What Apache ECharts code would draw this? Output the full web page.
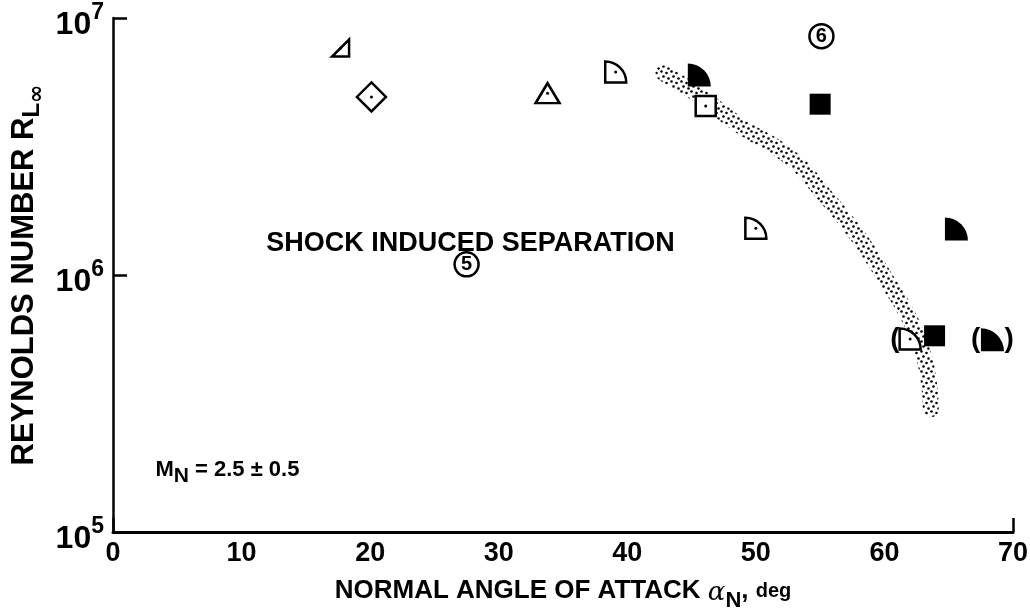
<!DOCTYPE html>
<html>
<head>
<meta charset="utf-8">
<script src="https://cdn.jsdelivr.net/npm/echarts@6/dist/echarts.min.js"></script>
<style>
html,body{margin:0;padding:0;background:#fff;}
#chart{width:1030px;height:613px;}
</style>
</head>
<body>
<div id="chart"></div>
<script>
// ---- data ----
const xTicks = [0, 10, 20, 30, 40, 50, 60, 70];
const yTicks = [1e5, 1e6, 1e7];
const openQuarter = [[39.1, 6.16e6], [50.0, 1.52e6], [62.0, 5.64e5]];
const filledQuarter = [[45.6, 6.0e6], [65.6, 1.51e6], [68.4, 5.6e5]];
const openSquare = [[46.1, 4.55e6]];
const filledSquare = [[55.0, 4.62e6], [63.9, 5.8e5]];
const openTriangle = [[33.8, 5.1e6]];
const slashTriangle = [[17.7, 7.64e6]];
const openDiamond = [[20.1, 4.93e6]];
const bracketLeftOnly = [[62.0, 5.64e5]];
const bracketBoth = [[68.4, 5.6e5]];
const regionMarks = [{name: '5', value: [27.5, 1.1e6]}, {name: '6', value: [55.1, 8.5e6]}];
const boundary = [[42.8, 6.1e6], [45.6, 5.0e6], [48.8, 3.8e6], [52.6, 2.88e6], [55.5, 2.0e6],
                  [58.0, 1.4e6], [60.2, 9.5e5], [61.8, 7.0e5], [62.8, 5.3e5], [63.4, 4.0e5], [63.6, 3.0e5]];
const regionText = [{name: 'SHOCK INDUCED SEPARATION', value: [27.8, 1.32e6]}];
const machText = [{name: 'M_N', value: [8.9, 1.75e5]}];

// ---- styles ----
const BOLD = 'bold';
const SANS = '"Liberation Sans", Arial, sans-serif';
const NARROW = '"Liberation Sans Narrow", "Liberation Sans", Arial, sans-serif';

const pat = document.createElement('canvas');
pat.width = 10; pat.height = 10;
const pctx = pat.getContext('2d');
pctx.fillStyle = '#000';
[[1.5, 1.5], [6.5, 3], [3.5, 6.5], [8.5, 8.5]].forEach(([x, y]) => {
  pctx.beginPath(); pctx.arc(x, y, 1.3, 0, Math.PI * 2); pctx.fill();
});

const QUARTER = 'path://M0,0 A20,20 0 0 1 20,20 L0,20 Z';
const RTRI = 'path://M20,0 L20,20 L0,20 Z';

function openStyle() {
  return {color: '#fff', borderColor: '#000', borderWidth: 2.5, opacity: 1};
}
const solid = {color: '#000', opacity: 1};
const hidden = {color: 'rgba(0,0,0,0)', opacity: 1};

const chart = echarts.init(document.getElementById('chart'), null, {renderer: 'canvas'});
chart.setOption({
  animation: false,
  backgroundColor: '#fff',
  grid: {left: 113, right: 17, top: 18, bottom: 81, containLabel: false, outerBoundsMode: 'none'},
  xAxis: [{
    type: 'value', min: 0, max: 70, interval: 10,
    axisLine: {show: true, lineStyle: {color: '#000', width: 3}},
    axisTick: {show: false},
    splitLine: {show: false},
    axisLabel: {color: '#000', fontSize: 27, fontWeight: BOLD, fontFamily: NARROW, margin: 8,
      formatter: v => xTicks.includes(v) ? String(v) : ''},
    name: '{t|NORMAL ANGLE OF ATTACK }{g|α}{sub|N}{t|, }{d|deg}',
    nameLocation: 'middle', nameGap: 46, nameMoveOverlap: false,
    nameTextStyle: {
      rich: {
        t: {fontSize: 26, fontWeight: BOLD, fontFamily: NARROW, color: '#000', lineHeight: 32, verticalAlign: 'top'},
        g: {fontSize: 26, fontFamily: 'DejaVu Serif', fontStyle: 'italic', color: '#000', lineHeight: 32, verticalAlign: 'top', padding: [2, 0, 0, 0]},
        sub: {fontSize: 22, fontWeight: BOLD, fontFamily: NARROW, color: '#000', lineHeight: 32, verticalAlign: 'top', padding: [12, 0, 0, 0]},
        d: {fontSize: 20, fontWeight: BOLD, fontFamily: NARROW, color: '#000', lineHeight: 32, verticalAlign: 'top', padding: [3, 0, 0, 0]}
      }
    }
  }, {
    type: 'value', min: 0, max: 70, interval: 70, position: 'bottom',
    axisLine: {show: false},
    axisTick: {show: true, inside: true, length: 14, lineStyle: {color: '#000', width: 2.5}},
    axisLabel: {show: false}, splitLine: {show: false}
  }],
  yAxis: {
    type: 'log', logBase: 10, min: 1e5, max: 1e7,
    axisLine: {show: true, lineStyle: {color: '#000', width: 2.5}},
    axisTick: {show: true, inside: true, length: 14, lineStyle: {color: '#000', width: 2.5}},
    minorTick: {show: false},
    splitLine: {show: false},
    axisLabel: {
      margin: 9,
      formatter: v => {
        const e = Math.round(Math.log10(v));
        return '{b|10}{s|' + e + '}';
      },
      rich: {
        b: {fontSize: 32, fontWeight: BOLD, fontFamily: SANS, color: '#000', lineHeight: 34, padding: [14, 0, 0, 0]},
        s: {fontSize: 23, fontWeight: BOLD, fontFamily: SANS, color: '#000', lineHeight: 34, verticalAlign: 'top'}
      }
    },
    name: '{t|REYNOLDS NUMBER R}{sub|L}{inf|∞}',
    nameLocation: 'middle', nameRotate: 90, nameGap: 72, nameMoveOverlap: false,
    nameTextStyle: {
      rich: {
        t: {fontSize: 31, fontWeight: BOLD, fontFamily: SANS, color: '#000', lineHeight: 34},
        sub: {fontSize: 24, fontWeight: BOLD, fontFamily: SANS, color: '#000', lineHeight: 34, padding: [16, 0, 0, 0]},
        inf: {fontSize: 22, fontWeight: BOLD, fontFamily: 'DejaVu Sans', color: '#000', lineHeight: 34, padding: [26, 0, 0, 0]}
      }
    }
  },
  series: [
    {type: 'line', data: boundary, smooth: true, showSymbol: false, z: 1,
      lineStyle: {width: 16, color: {image: pat, repeat: 'repeat'}, cap: 'round', opacity: 1}},
    {type: 'scatter', data: openQuarter, symbol: QUARTER, symbolSize: 21, itemStyle: openStyle(), z: 3},
    {type: 'scatter', data: filledQuarter, symbol: QUARTER, symbolSize: 23, itemStyle: solid, z: 3},
    {type: 'scatter', data: openSquare, symbol: 'rect', symbolSize: 20, itemStyle: openStyle(), z: 3},
    {type: 'scatter', data: filledSquare, symbol: 'rect', symbolSize: 21, itemStyle: solid, z: 4},
    {type: 'scatter', data: openTriangle, symbol: 'triangle', symbolSize: [24, 20], itemStyle: openStyle(), z: 3},
    {type: 'scatter', data: slashTriangle, symbol: RTRI, symbolSize: [17, 17], itemStyle: openStyle(), z: 3},
    {type: 'scatter', data: openDiamond, symbol: 'diamond', symbolSize: [29, 29], itemStyle: openStyle(), z: 3},
    // center dots of open symbols
    {type: 'scatter', data: [].concat(openQuarter, openSquare, openTriangle, slashTriangle, openDiamond),
      symbol: 'circle', symbolSize: 3, itemStyle: solid, z: 5},
    // brackets
    {type: 'scatter', data: bracketLeftOnly, symbolSize: 1, itemStyle: hidden, z: 6,
      label: {show: true, position: 'left', distance: 10, formatter: '(', fontSize: 28, fontWeight: BOLD, fontFamily: SANS, color: '#000'}},
    {type: 'scatter', data: bracketBoth, symbolSize: 1, itemStyle: hidden, z: 6,
      label: {show: true, position: 'inside', formatter: '{p|(}{g| }{p|)}',
        rich: {p: {fontSize: 28, fontWeight: BOLD, fontFamily: SANS, color: '#000'}, g: {width: 24}}}},
    // circled region numbers
    {type: 'scatter', data: regionMarks, symbol: 'circle', symbolSize: 24, z: 6,
      itemStyle: {color: '#fff', borderColor: '#000', borderWidth: 2.5, opacity: 1},
      label: {show: true, position: 'inside', formatter: p => p.name, fontSize: 20, fontWeight: BOLD, fontFamily: SANS, color: '#000'}},
    // annotation texts
    {type: 'scatter', data: regionText, symbolSize: 1, itemStyle: hidden, z: 6,
      label: {show: true, position: 'inside', formatter: p => p.name, fontSize: 27, fontWeight: BOLD, fontFamily: SANS, color: '#000'}},
    {type: 'scatter', data: machText, symbolSize: 1, itemStyle: hidden, z: 6,
      label: {show: true, position: 'inside', formatter: '{m|M}{n|N}{m| = 2.5 ± 0.5}',
        rich: {
          m: {fontSize: 22, fontWeight: BOLD, fontFamily: SANS, color: '#000', lineHeight: 30},
          n: {fontSize: 21, fontWeight: BOLD, fontFamily: SANS, color: '#000', lineHeight: 30, padding: [14, 0, 0, 0]}
        }}}
  ]
});
</script>
</body>
</html>
